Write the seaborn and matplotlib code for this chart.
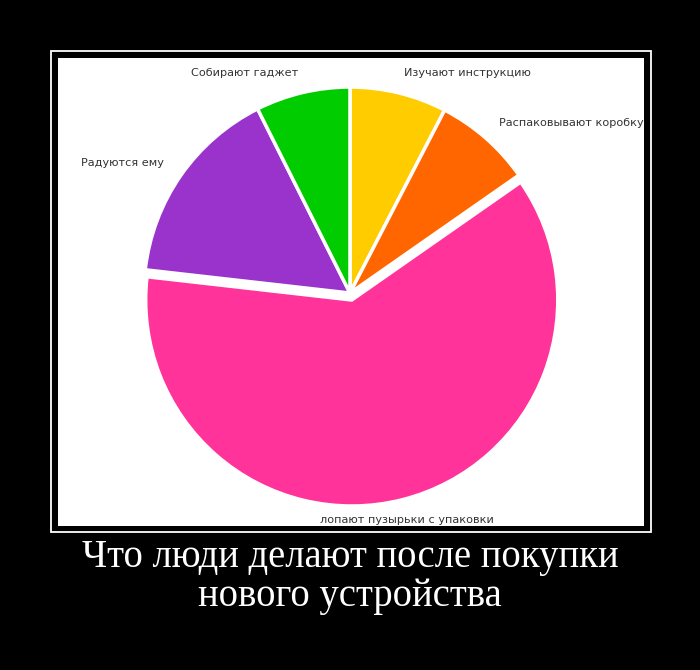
import numpy as np
import matplotlib
matplotlib.use("Agg")
import matplotlib.pyplot as plt
import seaborn as sns
from matplotlib.patches import Rectangle

# slices, clockwise from the top
labels = ["Изучают инструкцию", "Распаковывают коробку",
          "лопают пузырьки с упаковки", "Радуются ему", "Собирают гаджет"]
values = [7.6, 7.7, 61.5, 15.8, 7.4]
colors = ["#FFCC00", "#FF6600", "#FF3399", "#9933CC", "#00CC00"]
explode = [0, 0, 0.035, 0, 0]

caption = "Что люди делают после покупки\nнового устройства"

sns.set_style("white")
plt.rcParams['font.family'] = ['DejaVu Sans']

fig = plt.figure(figsize=(7, 6.7), dpi=100)
fig.patch.set_facecolor("black")

# thin white outer frame of the poster and the white panel inside
fig.patches.append(Rectangle((51 / 700, 1 - 532 / 670), 600 / 700, 481 / 670,
                             transform=fig.transFigure, fill=False,
                             edgecolor="white", linewidth=1.3, zorder=-2))
fig.patches.append(Rectangle((58 / 700, 1 - 526 / 670), 586 / 700, 468 / 670,
                             transform=fig.transFigure, facecolor="white",
                             edgecolor="none", zorder=-2))

ax = fig.add_axes([58 / 700, 1 - 526 / 670, 586 / 700, 468 / 670])

wedges, texts = ax.pie(values, labels=labels, colors=colors, explode=explode,
                       startangle=90, counterclock=False, labeldistance=1.1,
                       wedgeprops=dict(edgecolor="white", linewidth=2.5),
                       textprops=dict(fontsize=8.1, color="#333333"))
for t in texts:
    x, y = t.get_position()
    if abs(x) < 0.3 and y < 0:
        t.set_ha("center")
    elif x > 0:
        t.set_ha("left")
    else:
        t.set_ha("right")
    t.set_va("center")

ax.set_aspect("auto")
ax.set_xlim(-1.417, 1.427)
ax.set_ylim(-1.131, 1.141)
ax.set_xticks([])
ax.set_yticks([])
for s in ax.spines.values():
    s.set_visible(False)

fig.text(0.5, 1 - 577 / 670, caption, ha="center", va="center",
         color="white", fontsize=27.8, family="Liberation Serif",
         linespacing=1.08)

plt.savefig("out.png", dpi=100, facecolor=fig.get_facecolor())
